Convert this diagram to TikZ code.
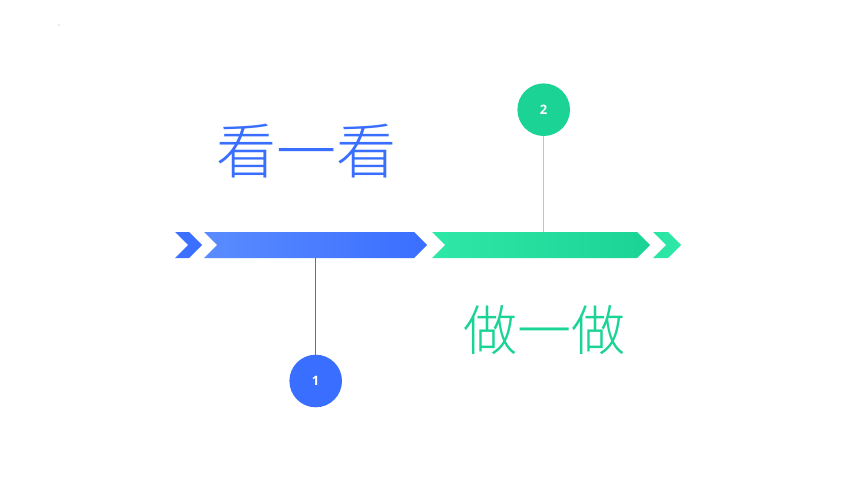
\documentclass[tikz,border=0pt]{standalone}
\usepackage{fontspec}
\newfontfamily\cjk{Noto Sans CJK SC Light}
\setsansfont{Open Sans}
\usetikzlibrary{shapes, positioning}

\definecolor{bluedark}{HTML}{3A6EFF}
\definecolor{bluelight}{HTML}{5A8CFF}
\definecolor{greendark}{HTML}{1AD394}
\definecolor{greenlight}{HTML}{2EE8A8}
\definecolor{greenline}{HTML}{7EE6C2}

\begin{document}
\begin{tikzpicture}[x=1pt,y=-1pt,
		dot/.style={circle, fill, minimum size=52.6pt, inner sep=0pt, text=white, font=\sffamily\bfseries\fontsize{13}{14}\selectfont},
		title/.style={text=#1, inner sep=0pt},
		link/.style={line width=1.2pt}]
		\useasboundingbox (0,0) rectangle (860,484);
		\fill[gray!70] (59,25) circle (0.6);
		\coordinate (b1) at (315.7,258);
		\coordinate (b2) at (543.7,232);
		\node[dot, fill=bluedark](c1) at (315.7,381) {1};
		\node[dot, fill=greendark](c2) at (543.7,109.7) {2};
		\draw [link, bluedark] (b1) -- (c1);
		\draw [link, greenline] (b2) -- (c2);
		% chevrons
		\shade[left color=bluedark!90!bluelight, right color=bluedark] (175,232) -- (189,232) -- (202,245) -- (189,258) -- (175,258) -- (188,245) -- cycle;
		\shade[left color=bluelight, right color=bluedark] (204,232) -- (414,232) -- (427,245) -- (414,258) -- (204,258) -- (217,245) -- cycle;
		\shade[left color=greenlight, right color=greendark] (432,232) -- (637,232) -- (650,245) -- (637,258) -- (432,258) -- (445,245) -- cycle;
		\shade[left color=greenlight!80!greendark, right color=greenlight] (653,232) -- (668,232) -- (681,245) -- (668,258) -- (653,258) -- (666,245) -- cycle;
		\node[title=bluedark, font=\cjk\fontsize{60}{64}\selectfont](look) at (306,151) {看一看};
		\node[title=greendark, font=\cjk\fontsize{54}{58}\selectfont](do) at (544,330) {做一做};
	\end{tikzpicture}
\end{document}
